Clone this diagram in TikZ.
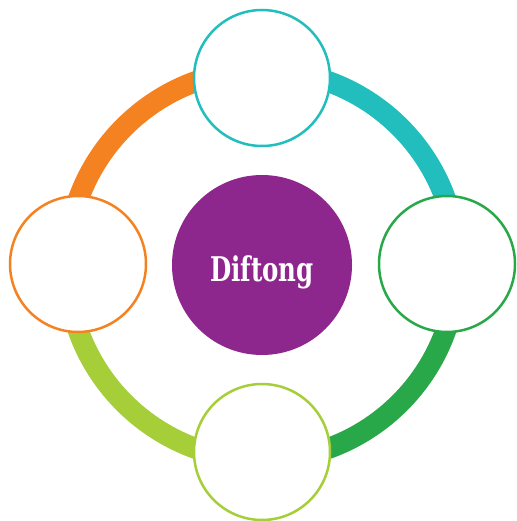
\documentclass[tikz,border=0pt]{standalone}
\usepackage{fontspec}
\newfontfamily\slabfont{DejaVu Serif Condensed}
\definecolor{cpurple}{HTML}{8E278D}
\definecolor{cteal}{HTML}{22BDBD}
\definecolor{cgreen}{HTML}{29A84A}
\definecolor{clime}{HTML}{A5CE39}
\definecolor{corange}{HTML}{F58220}
\tikzset{
  ringarc/.style={line width=21pt},
  outer/.style={circle, draw=#1, line width=2.5pt, fill=white, minimum size=136pt, inner sep=0pt},
}
\begin{document}
\begin{tikzpicture}[x=1pt,y=-1pt]
\useasboundingbox (0,0) rectangle (516,521);
\coordinate (c) at (262,265);
% ring arcs (y axis points down, so angles run clockwise)
\draw[ringarc, cteal]   ([yshift=195pt]c) arc[start angle=-90, end angle=0, radius=195];
\draw[ringarc, cgreen]  ([xshift=195pt]c) arc[start angle=0, end angle=90, radius=195];
\draw[ringarc, clime]   ([yshift=-195pt]c) arc[start angle=90, end angle=180, radius=195];
\draw[ringarc, corange] ([xshift=-195pt]c) arc[start angle=180, end angle=270, radius=195];
% circles
\node[outer=cteal]   (top)    at (262,78)  {};
\node[outer=cgreen]  (right)  at (447,264) {};
\node[outer=clime]   (bottom) at (262,452) {};
\node[outer=corange] (left)   at (78,264)  {};
\node[circle, fill=cpurple, minimum size=180pt, inner sep=0pt] (center) at (c) {};
\node[text=white, font=\slabfont\bfseries\fontsize{34}{34}\selectfont, xscale=0.8, anchor=base] (lbl) at (262,281) {Diftong};
\end{tikzpicture}
\end{document}
